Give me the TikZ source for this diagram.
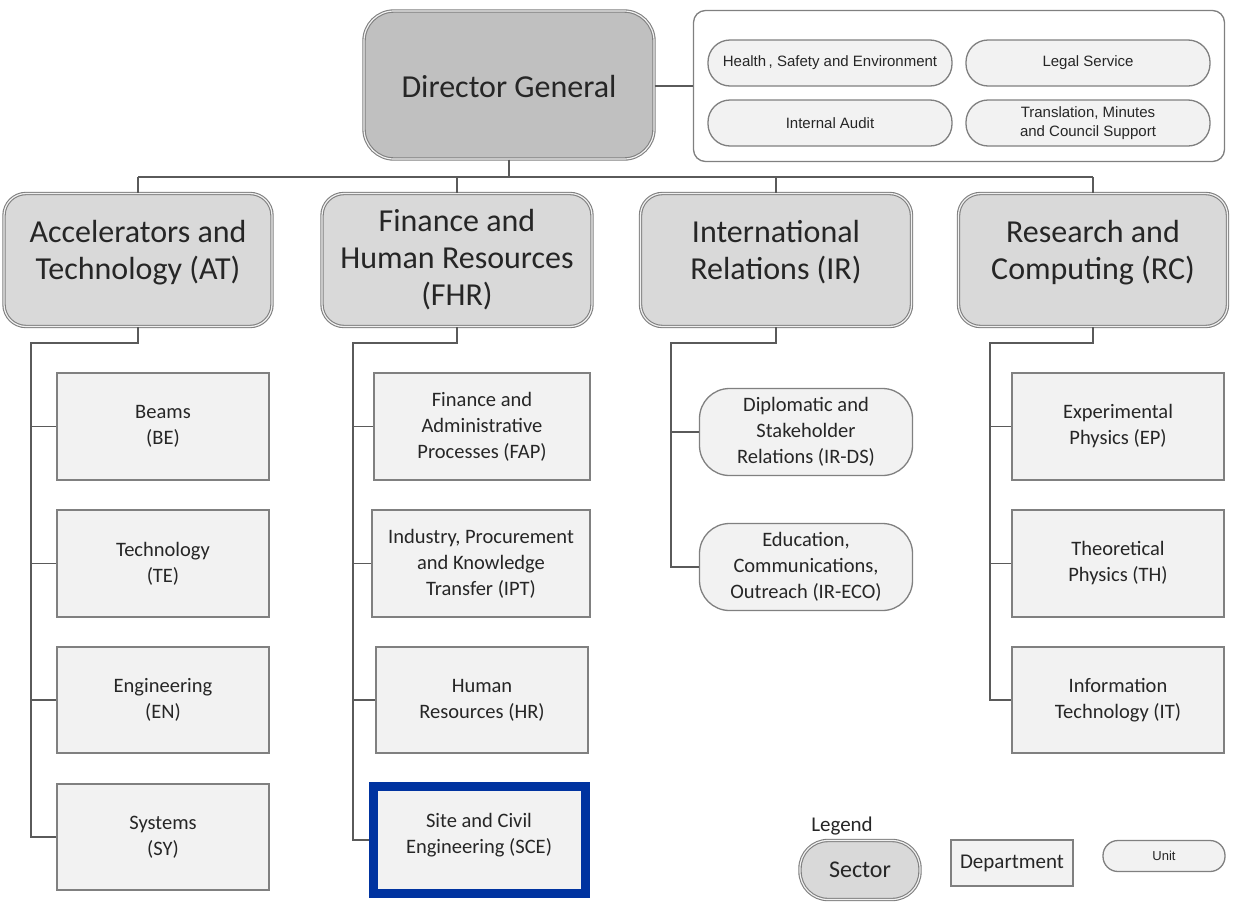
\documentclass[tikz,border=0pt]{standalone}
\usepackage{fontspec}
\setmainfont{Carlito}
\newfontfamily\arialf{Liberation Sans}
\definecolor{txt}{HTML}{262626}
\definecolor{lin}{HTML}{5A5A5A}
\definecolor{bord}{HTML}{808080}
\definecolor{dgfill}{HTML}{C0C0C0}
\definecolor{secfill}{HTML}{D9D9D9}
\definecolor{depfill}{HTML}{F2F2F2}
\definecolor{sceblue}{HTML}{0033A0}
\newcommand{\lowstrut}{\rule[-20pt]{0pt}{1pt}}
\tikzset{
  conn/.style={draw=lin, line width=1.8pt},
  sector/.style={draw=bord, double=secfill!40!white, double distance=1.2pt, line width=1.1pt, fill=secfill, rounded corners=22pt, align=center, text=txt, font=\fontsize{32}{37}\selectfont, inner sep=0pt},
  dgbox/.style={sector, fill=dgfill, rounded corners=30pt},
  dept/.style={draw=bord, line width=1.3pt, fill=depfill, align=center, text=txt, font=\fontsize{20.5}{26}\selectfont, inner sep=0pt},
  unitbox/.style={draw=bord, line width=1.3pt, fill=depfill, rounded corners=30pt, align=center, text=txt, font=\fontsize{20.5}{26}\selectfont, inner sep=0pt},
  svc/.style={draw=bord, line width=1.3pt, fill=depfill, rounded corners=22pt, align=center, text=txt, font=\arialf\fontsize{15}{19}\selectfont, inner sep=0pt, minimum width=244pt, minimum height=46pt},
}
\begin{document}
\begin{tikzpicture}[x=1pt,y=-1pt]
\useasboundingbox (0,0) rectangle (1248,908);
% Director General and services
\node[dgbox, minimum width=290pt, minimum height=148pt] (dg) at (509,85) {\rule{0pt}{26pt}Director General};
\node[draw=bord, line width=1.3pt, fill=white, rounded corners=12pt, minimum width=531pt, minimum height=151pt, inner sep=0pt] (svcbox) at (959,86) {};
\node[svc] (hse) at (830,63) {Health\,, Safety and Environment};
\node[svc] (legal) at (1088,63) {Legal Service};
\node[svc] (audit) at (830,123) {Internal Audit};
\node[svc] (trans) at (1088,123) {Translation, Minutes\\and Council Support};
\draw[conn] (dg.east |- 0,86) -- (svcbox.west |- 0,86);
% Sectors
\node[sector, minimum width=268pt, minimum height=133pt] (at) at (138,260) {Accelerators and\\Technology (AT)\lowstrut};
\node[sector, minimum width=270pt, minimum height=133pt] (fhr) at (457,260) {Finance and\\Human Resources\\(FHR)};
\node[sector, minimum width=271pt, minimum height=133pt] (ir) at (776,260) {International\\Relations (IR)\lowstrut};
\node[sector, minimum width=269pt, minimum height=133pt] (rc) at (1093,260) {Research and\\Computing (RC)\lowstrut};
\coordinate (bus) at (0,177);
\draw[conn] (dg.south) -- (dg.south |- bus);
\draw[conn] (at.north |- bus) -- (rc.north |- bus);
\foreach \s in {at,fhr,ir,rc} \draw[conn] (\s.north |- bus) -- (\s.north);
% AT departments
\node[dept, minimum width=212pt, minimum height=107pt] (be) at (163,426.5) {Beams\\(BE)};
\node[dept, minimum width=212pt, minimum height=107pt] (te) at (163,563.5) {Technology\\(TE)};
\node[dept, minimum width=212pt, minimum height=106pt] (en) at (163,700) {Engineering\\(EN)};
\node[dept, minimum width=212pt, minimum height=106pt] (sy) at (163,837) {Systems\\(SY)};
\coordinate (atsp) at (31,343);
\draw[conn] (at.south) -- (at.south |- atsp) -- (atsp) -- (atsp |- sy.west) -- (sy.west);
\foreach \d in {be,te,en} \draw[conn] (atsp |- \d.west) -- (\d.west);
% FHR departments
\node[dept, minimum width=216pt, minimum height=107pt] (fap) at (482,426.5) {Finance and\\Administrative\\Processes (FAP)};
\node[dept, minimum width=218pt, minimum height=107pt] (ipt) at (481,563.5) {Industry, Procurement\\and Knowledge\\Transfer (IPT)};
\node[dept, minimum width=212pt, minimum height=106pt] (hr) at (482,700) {Human\\Resources (HR)};
\node[dept, draw=sceblue, line width=9pt, minimum width=212pt, minimum height=107pt] (sce) at (479,840) {Site and Civil\\Engineering (SCE)\rule[-14pt]{0pt}{1pt}};
\coordinate (fhrsp) at (353,343);
\draw[conn] (fhr.south) -- (fhr.south |- fhrsp) -- (fhrsp) -- (fhrsp |- sce.west) -- (sce.west);
\foreach \d in {fap,ipt,hr} \draw[conn] (fhrsp |- \d.west) -- (\d.west);
% IR units
\node[unitbox, minimum width=213pt, minimum height=87pt] (ds) at (806,432) {Diplomatic and\\Stakeholder\\Relations (IR-DS)};
\node[unitbox, minimum width=213pt, minimum height=87pt] (eco) at (806,567) {Education,\\Communications,\\Outreach (IR-ECO)};
\coordinate (irsp) at (671,343);
\draw[conn] (ir.south) -- (ir.south |- irsp) -- (irsp) -- (irsp |- eco.west) -- (eco.west);
\draw[conn] (irsp |- ds.west) -- (ds.west);
% RC departments
\node[dept, minimum width=212pt, minimum height=107pt] (ep) at (1118,426.5) {Experimental\\Physics (EP)};
\node[dept, minimum width=212pt, minimum height=107pt] (th) at (1118,563.5) {Theoretical\\Physics (TH)};
\node[dept, minimum width=212pt, minimum height=106pt] (it) at (1118,700) {Information\\Technology (IT)};
\coordinate (rcsp) at (990,343);
\draw[conn] (rc.south) -- (rc.south |- rcsp) -- (rcsp) -- (rcsp |- it.west) -- (it.west);
\foreach \d in {ep,th} \draw[conn] (rcsp |- \d.west) -- (\d.west);
% Legend
\node[text=txt, font=\fontsize{21}{25}\selectfont, inner sep=0pt] (leg) at (842,826) {Legend};
\node[sector, rounded corners=28pt, minimum width=120pt, minimum height=59pt, font=\fontsize{24}{28}\selectfont] (lsec) at (860,870) {Sector};
\node[dept, minimum width=122pt, minimum height=46pt, font=\fontsize{21}{25}\selectfont] (ldep) at (1012,863) {Department};
\node[svc, rounded corners=15pt, minimum width=122pt, minimum height=31pt, font=\arialf\fontsize{13}{16}\selectfont] (lunit) at (1164,856) {Unit};
\end{tikzpicture}
\end{document}
